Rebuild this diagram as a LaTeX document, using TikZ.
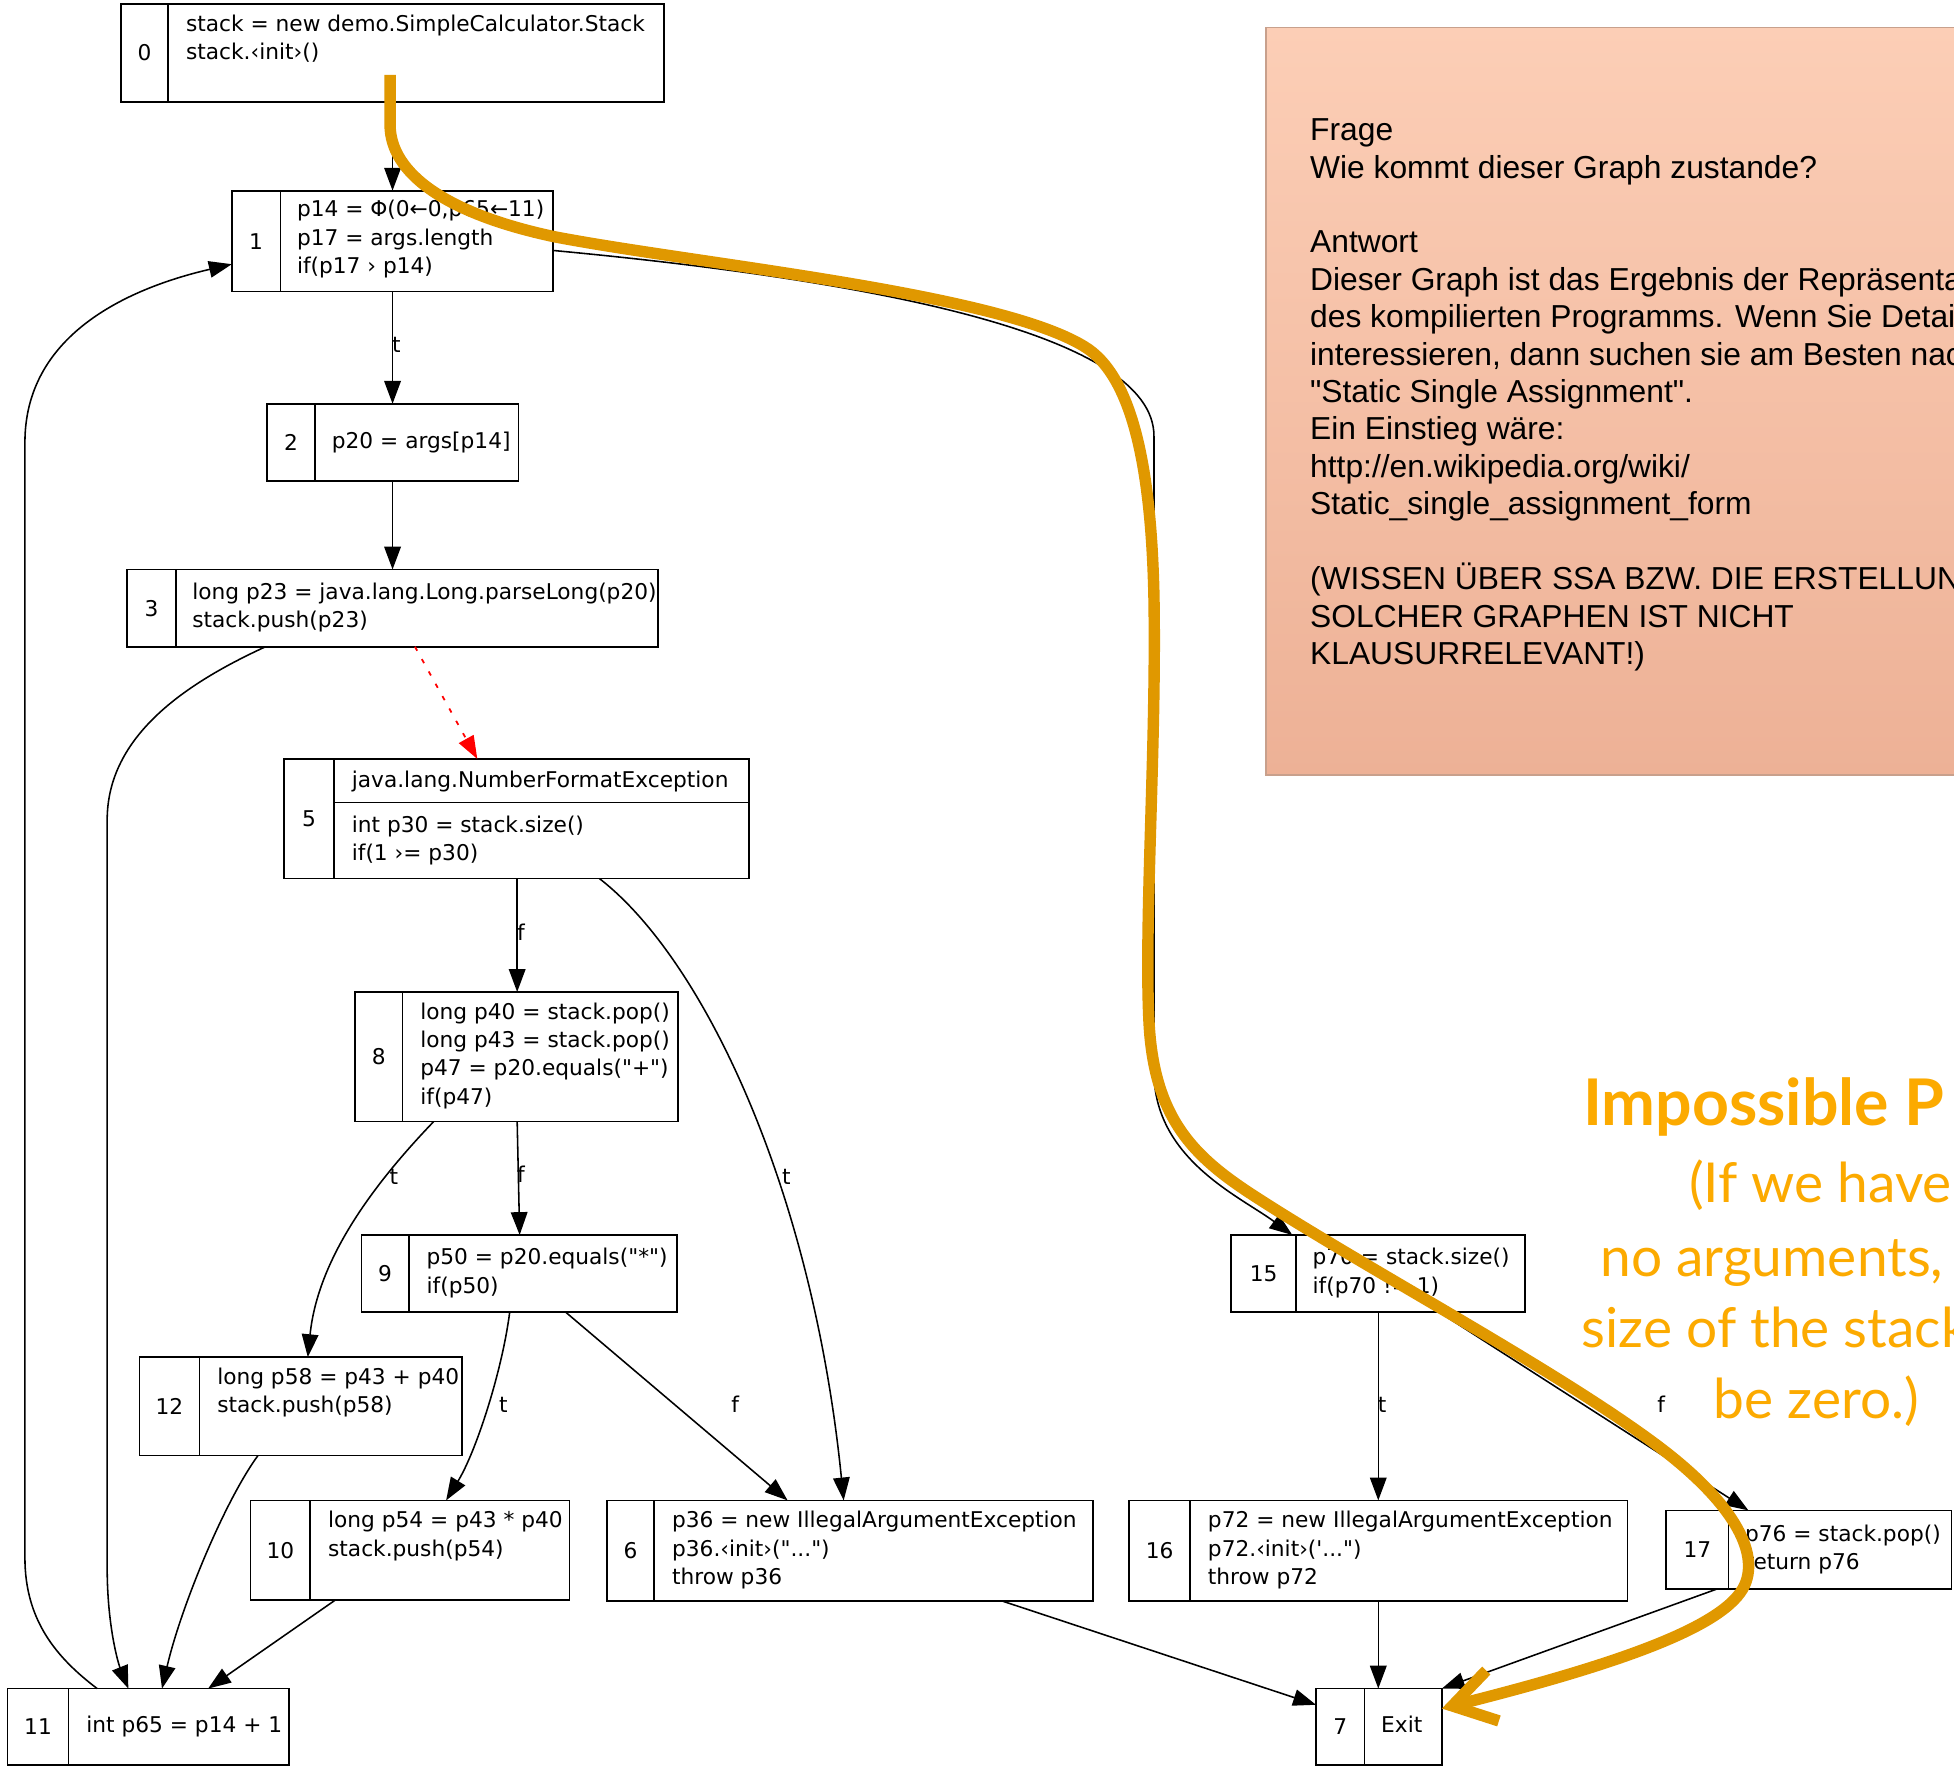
\documentclass[tikz,border=0pt]{standalone}
\usepackage{fontspec}
\usetikzlibrary{arrows.meta,fit}

\newfontfamily\codefont{DejaVu Sans}[Ligatures=TeXOff]
\newfontfamily\notefont{Liberation Sans}[Ligatures=TeXOff]
\newfontfamily\annfont{Lato}

\definecolor{pathorange}{RGB}{224,152,0}
\definecolor{anntext}{RGB}{252,170,0}
\definecolor{notetop}{RGB}{252,206,182}
\definecolor{notebottom}{RGB}{237,177,150}
\definecolor{noteborder}{RGB}{200,160,140}

% several left-aligned lines whose baseline is the first line's
\newcommand\codelines[1]{\begin{tabular}[t]{@{}l@{}}#1\end{tabular}}

% record box: name, x1, y1, x2, y2, x of the divider, block number
\newcommand\record[7]{%
  \node[recbox, fit={(#2,#3) (#4,#5)}] (#1) {};
  \draw[recline] (#1.north -| #6,0) -- (#1.south -| #6,0);
  \node[recnum] (#1num) at ({(#2+#6)/2},{(#3+#5)/2}) {#7};
}

\begin{document}
\begin{tikzpicture}[x=0.6pt,y=-0.6pt,
  recbox/.style={draw, line width=0.85pt, inner sep=0pt, outer sep=0pt},
  recline/.style={line width=0.85pt},
  codefontsize/.style={font=\codefont\fontsize{10.45}{13.6}\selectfont},
  code/.style={codefontsize, inner sep=0pt, anchor=base west},
  recnum/.style={codefontsize, inner sep=0pt},
  elabel/.style={codefontsize, inner sep=0pt},
  flow/.style={line width=0.75pt, -{Triangle[length=11pt,width=8pt]}},
  exflow/.style={draw=red, line width=0.85pt, dash pattern=on 2.2pt off 4.6pt,
    -{Triangle[length=11pt,width=8pt,fill=red,color=red]}},
  notebox/.style={draw=noteborder, line width=0.7pt, top color=notetop,
    bottom color=notebottom, inner sep=0pt},
  notetext/.style={font=\notefont\fontsize{15.3}{18}\selectfont, inner sep=0pt, anchor=base west},
  anntitle/.style={font=\annfont\bfseries\fontsize{31}{36}\selectfont, text=anntext, inner sep=0pt, anchor=base west},
  annline/.style={font=\annfont\fontsize{26.5}{34}\selectfont, text=anntext, inner sep=0pt, anchor=base west},
  hilite/.style={draw=pathorange, line width=5.5pt,
    -{Straight Barb[length=20pt,width=25pt]}}
]
\useasboundingbox (0,0) rectangle (1568,1417);
\fill[white] (0,0) rectangle (1568,1417);

% explanation note
\node[notebox, fit={(1016,22) (1600,622)}] (note) {};
\node[notetext] (notetxt) at (1051,113) {\codelines{%
Frage\\
Wie kommt dieser Graph zustande?\\
\\
Antwort\\
Dieser Graph ist das Ergebnis der Repräsenta\\
des kompilierten Programms. Wenn Sie Detai\\
interessieren, dann suchen sie am Besten nac\\
"Static Single Assignment".\\
Ein Einstieg wäre:\\
http://en.wikipedia.org/wiki/\\
Static\_single\_assignment\_form\\
\\
(WISSEN ÜBER SSA BZW. DIE ERSTELLUNG\\
SOLCHER GRAPHEN IST NICHT\\
KLAUSURRELEVANT!)}};

% basic blocks
\record{n0}{97}{3}{533}{82}{135}{0}
\record{n1}{186}{153}{444}{234}{225}{1}
\record{n2}{214}{324}{416}{386}{253}{2}
\record{n3}{102}{457}{528}{519}{141}{3}
\record{n5}{228}{609}{601}{705}{268}{5}
\record{n8}{285}{796}{544}{900}{323}{8}
\record{n9}{290}{991}{543}{1053}{328}{9}
\record{n12}{112}{1089}{371}{1168}{160}{12}
\record{n10}{201}{1204}{457}{1284}{249}{10}
\record{n6}{487}{1204}{877}{1285}{525}{6}
\record{n11}{6}{1355}{232}{1416.5}{55}{11}
\record{n15}{988}{991}{1224}{1053}{1040}{15}
\record{n16}{906}{1204}{1306}{1285}{955}{16}
\record{n17}{1337}{1212}{1566}{1275}{1387}{17}
\record{n7}{1056}{1355}{1157}{1416.5}{1095}{7}
\draw[recline] (n5.east |- 0,644) -- (268,644);

\node[code] (t0) at (149,25) {\codelines{stack = new demo.SimpleCalculator.Stack\\ stack.‹init›()}};
\node[code] (t1) at (238,174) {\codelines{p14 = Φ(0←0,p65←11)\\ p17 = args.length\\ if(p17 › p14)}};
\node[code] (t2) at (266,360) {p20 = args[p14]};
\node[code] (t3) at (154,481) {\codelines{long p23 = java.lang.Long.parseLong(p20)\\ stack.push(p23)}};
\node[code] (t5h) at (282,632) {java.lang.NumberFormatException};
\node[code] (t5) at (282,668) {\codelines{int p30 = stack.size()\\ if(1 ›= p30)}};
\node[code] (t8) at (337,818) {\codelines{long p40 = stack.pop()\\ long p43 = stack.pop()\\ p47 = p20.equals("+")\\ if(p47)}};
\node[code] (t9) at (342,1015) {\codelines{p50 = p20.equals("*")\\ if(p50)}};
\node[code] (t12) at (174,1111) {\codelines{long p58 = p43 + p40\\ stack.push(p58)}};
\node[code] (t10) at (263,1226) {\codelines{long p54 = p43 * p40\\ stack.push(p54)}};
\node[code] (t6) at (539,1226) {\codelines{p36 = new IllegalArgumentException\\ p36.‹init›("...")\\ throw p36}};
\node[code] (t11) at (69,1390) {int p65 = p14 + 1};
\node[code] (t15) at (1053,1015) {\codelines{p70 = stack.size()\\ if(p70 != 1)}};
\node[code] (t16) at (969,1226) {\codelines{p72 = new IllegalArgumentException\\ p72.‹init›(\textquotesingle...")\\ throw p72}};
\node[code] (t17) at (1400,1237) {\codelines{p76 = stack.pop()\\ return p76}};
\node[code] (t7) at (1108,1390) {Exit};

% control flow
\draw[flow] (n0.south -| 315,0) -- (n1.north -| 315,0);
\draw[flow] (n1.south -| 315,0) -- (n2.north -| 315,0);
\draw[flow] (n2.south -| 315,0) -- (n3.north -| 315,0);
\draw[exflow] (n3.south -| 333,0) -- (n5.north -| 383,0);
\draw[flow] (n3.south -| 213,0) .. controls (150,548) and (86,590) .. (86,658)
  -- (86,1258) .. controls (86,1305) and (95,1335) .. (n11.north -| 103,0);
\draw[flow] (n11.north -| 78,0) .. controls (45,1330) and (20,1300) .. (20,1250)
  -- (20,355) .. controls (20,270) and (100,232) .. (n1.west |- 0,212);
\draw[flow] (n5.south -| 415,0) -- (n8.north -| 415,0);
\draw[flow] (n5.south -| 481,0) .. controls (565,770) and (652,955) .. (n6.north -| 677,0);
\draw[flow] (n8.south -| 415,0) -- (n9.north -| 417,0);
\draw[flow] (n8.south -| 348,0) .. controls (300,950) and (255,1010) .. (n12.north -| 247,0);
\draw[flow] (n9.south -| 409,0) .. controls (403,1100) and (382,1165) .. (n10.north -| 358,0);
\draw[flow] (n9.south -| 454,0) -- (n6.north -| 632,0);
\draw[flow] (n12.south -| 207,0) .. controls (180,1205) and (145,1290) .. (n11.north -| 130,0);
\draw[flow] (n10.south -| 269,0) -- (n11.north -| 167,0);
\draw[flow] (n6.south -| 805,0) -- (n7.west |- 0,1368);
\draw[flow] (n1.east |- 0,201) .. controls (700,225) and (926,268) .. (926,350)
  -- (926,860) .. controls (926,930) and (995,960) .. (n15.north -| 1037,0);
\draw[flow] (n15.south -| 1106,0) -- (n16.north -| 1106,0);
\draw[flow] (n15.south -| 1155,0) -- (n17.north -| 1403,0);
\draw[flow] (n16.south -| 1106,0) -- (n7.north -| 1106,0);
\draw[flow] (n17.south -| 1378,0) -- (n7.north east);

% branch labels
\node[elabel] (l12) at (318,277) {t};
\node[elabel] (l58) at (418,748) {f};
\node[elabel] (l56) at (631,944) {t};
\node[elabel] (l812) at (316,944) {t};
\node[elabel] (l89) at (418,942) {f};
\node[elabel] (l910) at (404,1127) {t};
\node[elabel] (l96) at (590,1127) {f};
\node[elabel] (l1516) at (1109,1127) {t};
\node[elabel] (l1517) at (1333,1127) {f};

% highlighted path through the graph
\coordinate (hstart) at (313,60);
\draw[hilite] (hstart) -- (313,100)
  .. controls (313,140) and (360,172) .. (445,190)
  .. controls (560,212) and (800,235) .. (870,278)
  .. controls (910,302) and (924,380) .. (926,480)
  .. controls (928,600) and (918,740) .. (922,820)
  .. controls (926,900) and (960,930) .. (1010,962)
  .. controls (1100,1020) and (1250,1100) .. (1330,1160)
  .. controls (1390,1205) and (1412,1245) .. (1400,1272)
  .. controls (1385,1305) and (1300,1335) .. (n7.east |- 0,1371);

% annotation
\node[anntitle] (anntitle) at (1270,903) {Impossible P};
\node[annline] (ann1) at (1355,965) {(If we have};
\node[annline] (ann2) at (1284,1024) {no arguments,};
\node[annline] (ann3) at (1269,1081) {size of the stack};
\node[annline] (ann4) at (1375,1138) {be zero.)};
\end{tikzpicture}
\end{document}
